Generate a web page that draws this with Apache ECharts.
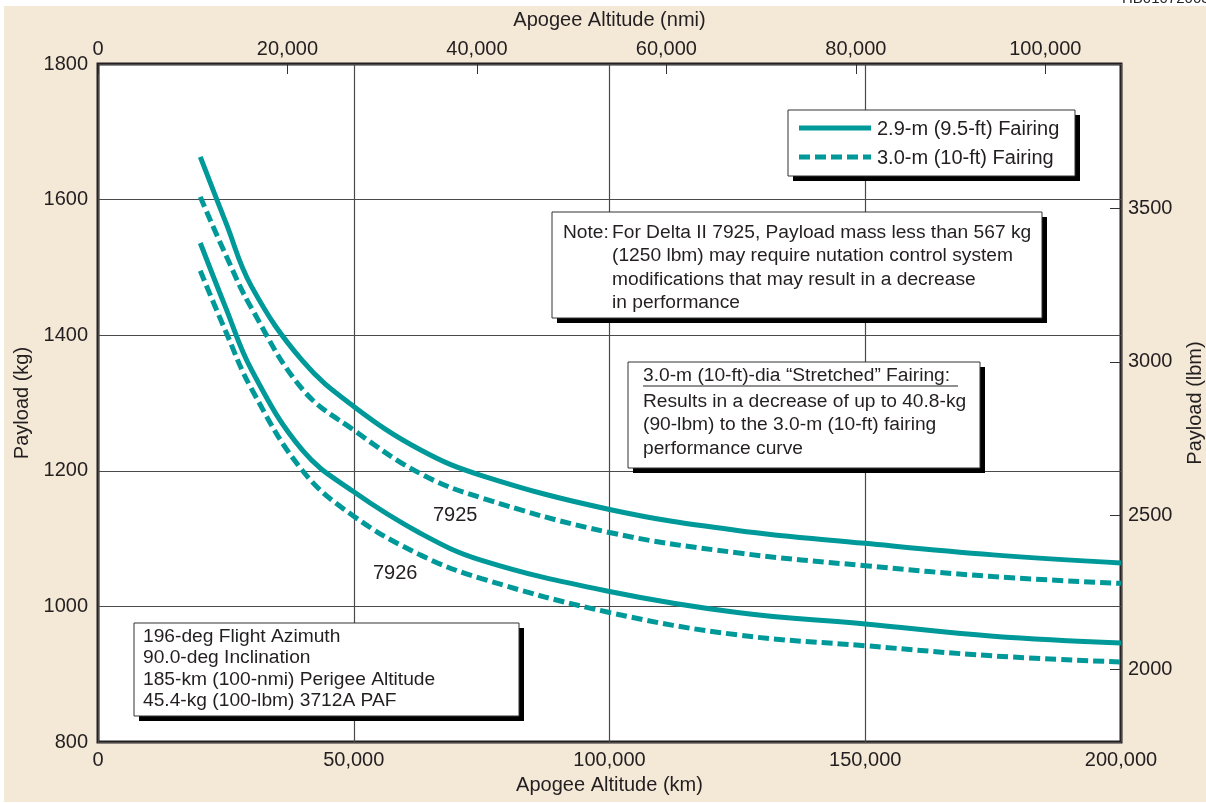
<!DOCTYPE html>
<html>
<head>
<meta charset="utf-8">
<script src="https://cdn.jsdelivr.net/npm/echarts@6/dist/echarts.min.js"></script>
<style>
  html, body { margin: 0; padding: 0; background: #fff; }
  #chart { width: 1206px; height: 803px; }
</style>
</head>
<body>
<div id="chart"></div>
<script>
// apogee altitude (km) where the curves were read
const apogeeKm = [20000, 25000, 30000, 40000, 50000, 63000, 75000, 100000, 125000, 150000, 175000, 200000]
// payload (kg)
const delta7925_29m = [1663, 1566, 1472, 1362, 1295, 1231, 1193, 1143, 1112, 1093, 1076, 1064]
const delta7925_30m = [1604, 1518, 1440, 1320, 1260, 1196, 1160, 1109, 1079, 1060, 1044, 1034]
const delta7926_29m = [1536, 1440, 1349, 1230, 1169, 1108, 1068, 1022, 991, 974, 956, 946]
const delta7926_30m = [1495, 1405, 1321, 1200, 1133, 1076, 1041, 991, 958, 942, 927, 918]

const nmiTicks = [0, 20000, 40000, 60000, 80000, 100000]
const lbmTicks = [2000, 2500, 3000, 3500]

const KM_PER_NMI = 1.852
const LBM_PER_KG = 2.20462
const TEAL = '#00999a'
const INK = '#231f20'
const FONT = 'Liberation Sans, Arial, Helvetica, sans-serif'

function pairs(ys) {
  return apogeeKm.map((x, i) => [x, ys[i]])
}
function fmt(v) {
  return Math.round(v).toLocaleString('en-US')
}
function plain(v) {
  return String(Math.round(v))
}

function curve(name, ys, dashed) {
  return {
    name: name,
    type: 'line',
    data: pairs(ys),
    showSymbol: false,
    smooth: 0.4,
    lineStyle: { color: TEAL, width: 5, type: dashed ? [11, 5] : 'solid', cap: 'butt' },
    z: 3
  }
}

// box with a hard black drop shadow
function box(x, y, w, h) {
  return [
    { type: 'rect', z: 100, shape: { x: x + 5, y: y + 5, width: w, height: h }, style: { fill: '#000' } },
    { type: 'rect', z: 101, shape: { x: x, y: y, width: w, height: h }, style: { fill: '#fff', stroke: '#333', lineWidth: 1 } }
  ]
}
function txt(s, x, y, size) {
  return {
    type: 'text', z: 102,
    style: { text: s, x: x, y: y, font: (size || 19.2) + 'px ' + FONT, fill: INK, align: 'left', verticalAlign: 'middle' }
  }
}

const graphics = [
  // white frame strips around the beige panel
  { type: 'rect', z: 0, shape: { x: 0, y: 0, width: 1206, height: 6 }, style: { fill: '#fff' } },
  { type: 'rect', z: 0, shape: { x: 0, y: 0, width: 4, height: 803 }, style: { fill: '#fff' } },
  { type: 'rect', z: 0, shape: { x: 0, y: 802, width: 1206, height: 1 }, style: { fill: '#fff' } },
  { type: 'text', z: 1, style: { text: 'HB01072003', x: 1122, y: -9, font: '15px ' + FONT, fill: INK } },

  // legend
  ...box(788, 110, 287, 66),
  { type: 'line', z: 102, shape: { x1: 799, y1: 128, x2: 871, y2: 128 }, style: { stroke: TEAL, lineWidth: 5 } },
  { type: 'line', z: 102, shape: { x1: 799, y1: 157, x2: 871, y2: 157 }, style: { stroke: TEAL, lineWidth: 5, lineDash: [11, 5] } },
  txt('2.9-m (9.5-ft) Fairing', 877, 129, 20),
  txt('3.0-m (10-ft) Fairing', 877, 158, 20),

  // note box
  ...box(552, 212, 490, 106),
  txt('Note:', 563, 233),
  txt('For Delta II 7925, Payload mass less than 567 kg', 612, 233),
  txt('(1250 lbm) may require nutation control system', 612, 256),
  txt('modifications that may result in a decrease', 612, 280),
  txt('in performance', 612, 303),

  // stretched fairing box
  ...box(628, 362, 352, 106),
  txt('3.0-m (10-ft)-dia \u201cStretched\u201d Fairing:', 643, 376),
  { type: 'line', z: 102, shape: { x1: 643, y1: 386, x2: 958, y2: 386 }, style: { stroke: INK, lineWidth: 1 } },
  txt('Results in a decrease of up to 40.8-kg', 643, 402),
  txt('(90-lbm) to the 3.0-m (10-ft) fairing', 643, 425),
  txt('performance curve', 643, 449),

  // mission conditions
  ...box(134, 623, 385, 93),
  txt('196-deg Flight Azimuth', 143, 637),
  txt('90.0-deg Inclination', 143, 658),
  txt('185-km (100-nmi) Perigee Altitude', 143, 680),
  txt('45.4-kg (100-lbm) 3712A PAF', 143, 701),

  // curve labels
  txt('7925', 433, 515, 20),
  txt('7926', 373, 573, 20)
]

const axisLabelBase = { color: INK, fontSize: 20, fontFamily: FONT }
const nameBase = { color: INK, fontSize: 20, fontFamily: FONT }

const option = {
  backgroundColor: '#f4e8d7',
  animation: false,
  grid: {
    left: 98, top: 64, width: 1023, height: 678,
    outerBoundsMode: 'none', containLabel: false,
    show: true, backgroundColor: '#fff', borderColor: INK, borderWidth: 3
  },
  xAxis: [
    {
      type: 'value', position: 'bottom', min: 0, max: 200000, interval: 50000,
      axisLine: { show: false, onZero: false }, axisTick: { show: false },
      splitLine: { show: true, lineStyle: { color: '#4a4a4a', width: 1.2 } },
      axisLabel: Object.assign({ margin: 8, formatter: fmt }, axisLabelBase),
      name: 'Apogee Altitude (km)', nameLocation: 'middle', nameGap: 33, nameTextStyle: nameBase
    },
    {
      type: 'value', position: 'top', min: 0, max: 200000 / KM_PER_NMI,
      axisLine: { show: false, onZero: false },
      axisTick: { show: true, inside: true, length: 10, customValues: nmiTicks, lineStyle: { color: '#333', width: 1 } },
      splitLine: { show: false },
      axisLabel: Object.assign({ margin: 5, formatter: fmt, customValues: nmiTicks }, axisLabelBase),
      name: 'Apogee Altitude (nmi)', nameLocation: 'middle', nameGap: 34, nameTextStyle: nameBase
    }
  ],
  yAxis: [
    {
      type: 'value', position: 'left', min: 800, max: 1800, interval: 200,
      axisLine: { show: false, onZero: false }, axisTick: { show: false },
      splitLine: { show: true, lineStyle: { color: '#4a4a4a', width: 1.2 } },
      axisLabel: Object.assign({ margin: 10, formatter: plain }, axisLabelBase),
      name: 'Payload (kg)', nameLocation: 'middle', nameRotate: 90, nameGap: 66, nameTextStyle: nameBase
    },
    {
      type: 'value', position: 'right', min: 800 * LBM_PER_KG, max: 1800 * LBM_PER_KG,
      axisLine: { show: false, onZero: false },
      axisTick: { show: true, inside: true, length: 11, customValues: lbmTicks, lineStyle: { color: '#333', width: 1 } },
      splitLine: { show: false },
      axisLabel: Object.assign({ margin: 7, formatter: plain, customValues: lbmTicks }, axisLabelBase),
      name: 'Payload (lbm)', nameLocation: 'middle', nameRotate: 90, nameGap: 64, nameTextStyle: nameBase
    }
  ],
  series: [
    curve('2.9-m (9.5-ft) Fairing', delta7925_29m, false),
    curve('3.0-m (10-ft) Fairing', delta7925_30m, true),
    curve('2.9-m (9.5-ft) Fairing', delta7926_29m, false),
    curve('3.0-m (10-ft) Fairing', delta7926_30m, true)
  ],
  graphic: graphics
}

const chart = echarts.init(document.getElementById('chart'), null, { renderer: 'canvas' })
chart.setOption(option)
window.onresize = function() {
  chart.resize()
}
</script>
</body>
</html>
